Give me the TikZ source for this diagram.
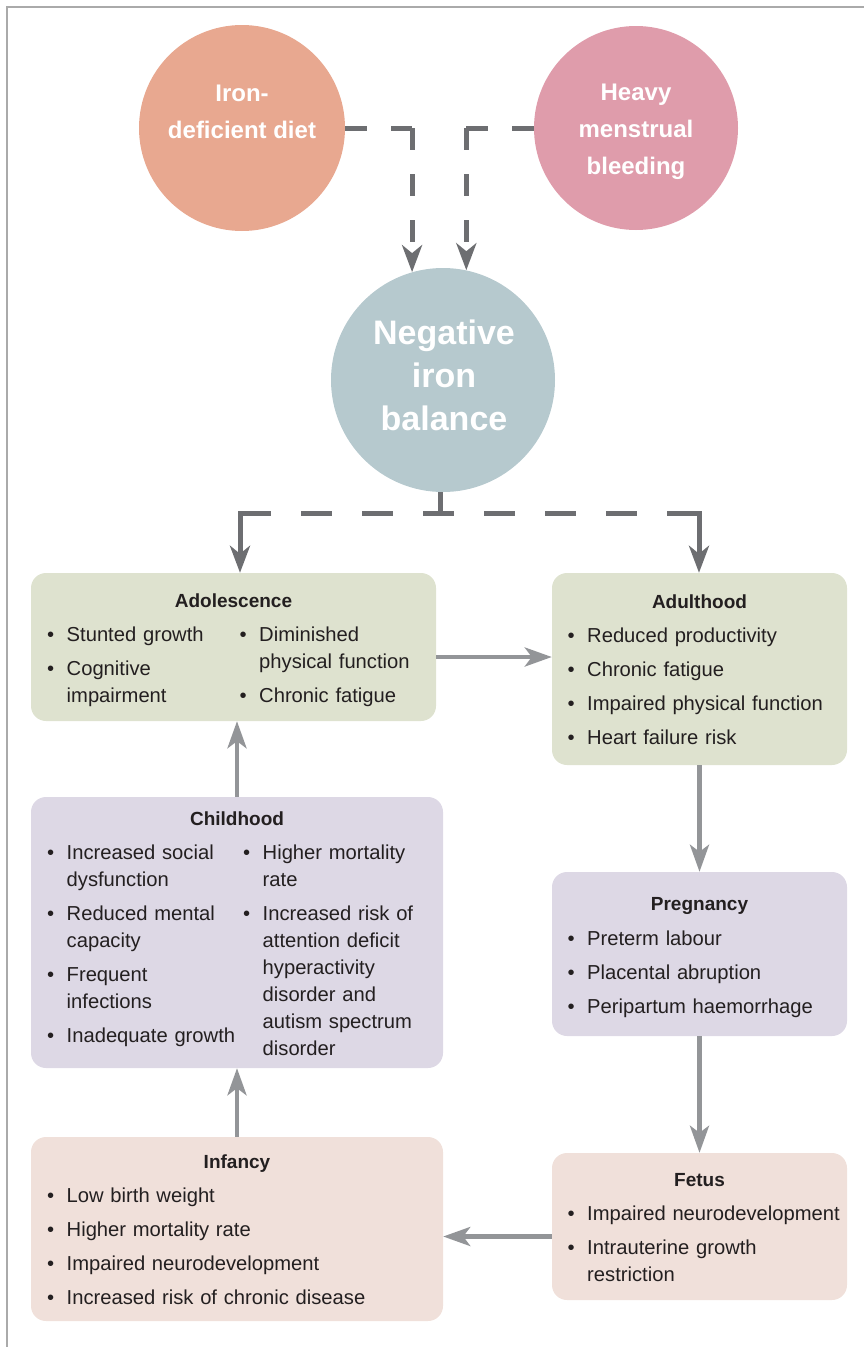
\documentclass[tikz,border=0pt]{standalone}
\usepackage{fontspec}
\setmainfont{Liberation Sans}
\usetikzlibrary{arrows.meta}

\definecolor{dietorange}{RGB}{232,168,144}
\definecolor{bleedpink}{RGB}{223,156,171}
\definecolor{balblue}{RGB}{182,201,206}
\definecolor{sagegreen}{RGB}{222,226,207}
\definecolor{lilac}{RGB}{221,216,229}
\definecolor{blush}{RGB}{240,224,218}
\definecolor{darkarrow}{RGB}{109,110,113}
\definecolor{lightarrow}{RGB}{147,149,152}
\definecolor{inktext}{RGB}{35,31,32}
\definecolor{pageframe}{RGB}{170,170,170}

% one bullet point, wrapped lines hang under the text
\newcommand\bitem[1]{\hangindent=19.5pt\hangafter=1\makebox[19.5pt][l]{\textbullet}#1\par}

\tikzset{
  cause/.style={circle, inner sep=0pt},
  phase/.style={rectangle, rounded corners=15pt, inner sep=0pt},
  head/.style={anchor=base, inner sep=0pt, text=inktext, font=\bfseries\fontsize{19}{23}\selectfont},
  items/.style={anchor=base west, inner sep=0pt, text=inktext, align=left, text width=400pt,
    font=\fontsize{20.2}{27}\selectfont, execute at begin node=\setlength{\parskip}{7pt}},
  circletext/.style={align=center, inner sep=0pt, text=white},
  dashlink/.style={draw=darkarrow, line width=5pt, dash pattern=on 22pt off 24pt},
  darklink/.style={draw=darkarrow, line width=5pt},
  link/.style={draw=lightarrow, line width=4.5pt, -{Stealth[length=27pt,width=19pt,inset=7pt]}},
  bigtip/.style={-{Stealth[length=27pt,width=20pt,inset=8pt]}},
}

\begin{document}
\begin{tikzpicture}[x=1pt,y=1pt,yscale=-1,xscale=1]
\useasboundingbox (0,0) rectangle (864,1347);

%Page frame
\draw [pageframe, line width=1.5pt] (7,1347) -- (7,7) -- (864,7);

%Shape: Circle
\node [cause, fill=dietorange, minimum size=206pt] (diet) at (242,128) {};
%Shape: Circle
\node [cause, fill=bleedpink, minimum size=204pt] (bleed) at (636,128) {};
%Shape: Circle
\node [cause, fill=balblue, minimum size=224pt] (bal) at (443,380) {};

% Text Node
\node [circletext, font=\bfseries\fontsize{24}{37}\selectfont] (diettext) at (242,112) {Iron-\\deficient diet};
% Text Node
\node [circletext, font=\bfseries\fontsize{24}{37}\selectfont] (bleedtext) at (636,132) {Heavy\\menstrual\\bleeding};
% Text Node
\node [circletext, font=\bfseries\fontsize{34}{43}\selectfont] (baltext) at (444,375) {Negative\\iron\\balance};

%Rounded Rect
\node [phase, fill=sagegreen, minimum width=405pt, minimum height=148pt] (adol) at (233.5,647) {};
%Rounded Rect
\node [phase, fill=sagegreen, minimum width=295pt, minimum height=192pt] (adult) at (699.5,669) {};
%Rounded Rect
\node [phase, fill=lilac, minimum width=412pt, minimum height=271pt] (child) at (237,932.5) {};
%Rounded Rect
\node [phase, fill=lilac, minimum width=295pt, minimum height=164pt] (preg) at (699.5,954) {};
%Rounded Rect
\node [phase, fill=blush, minimum width=295pt, minimum height=147pt] (fetus) at (699.5,1226.5) {};
%Rounded Rect
\node [phase, fill=blush, minimum width=412pt, minimum height=184pt] (inf) at (237,1229) {};

% Text Node
\node [head] (adolhead) at (233.5,607) {Adolescence};
\node [items] (adolleft) at (47,641) {\bitem{Stunted growth}\bitem{Cognitive\newline impairment}};
\node [items] (adolright) at (239.5,641) {\bitem{Diminished\newline physical function}\bitem{Chronic fatigue}};
% Text Node
\node [head] (adulthead) at (699.5,608) {Adulthood};
\node [items] (adultlist) at (567.5,642) {\bitem{Reduced productivity}\bitem{Chronic fatigue}\bitem{Impaired physical function}\bitem{Heart failure risk}};
% Text Node
\node [head] (childhead) at (237,825) {Childhood};
\node [items] (childleft) at (47,859) {\bitem{Increased social\newline dysfunction}\bitem{Reduced mental\newline capacity}\bitem{Frequent\newline infections}\bitem{Inadequate growth}};
\node [items] (childright) at (243,859) {\bitem{Higher mortality\newline rate}\bitem{Increased risk of\newline attention deficit\newline hyperactivity\newline disorder and\newline autism spectrum\newline disorder}};
% Text Node
\node [head] (preghead) at (699.5,910) {Pregnancy};
\node [items] (preglist) at (567.5,945) {\bitem{Preterm labour}\bitem{Placental abruption}\bitem{Peripartum haemorrhage}};
% Text Node
\node [head] (fetushead) at (699.5,1186) {Fetus};
\node [items] (fetuslist) at (567.5,1220) {\bitem{Impaired neurodevelopment}\bitem{Intrauterine growth\newline restriction}};
% Text Node
\node [head] (infhead) at (237,1168) {Infancy};
\node [items] (inflist) at (47,1202) {\bitem{Low birth weight}\bitem{Higher mortality rate}\bitem{Impaired neurodevelopment}\bitem{Increased risk of chronic disease}};

%Dashed Lines: causes into the balance
\coordinate (dietturn) at (diet.east -| bal.106);
\coordinate (bleedturn) at (bleed.west -| bal.78);
\draw [dashlink] (diet.east) -- (dietturn);
\draw [dashlink, bigtip] (dietturn) -- (bal.106);
\draw [dashlink] (bleed.west) -- (bleedturn);
\draw [dashlink, bigtip] (bleedturn) -- (bal.78);

%Dashed Lines: balance out to the two stages
\coordinate (split) at ([yshift=21pt, xshift=-3pt]bal.south);
\coordinate (lturn) at (240,513);
\coordinate (rturn) at (699,513);
\draw [darklink] ([xshift=-3pt]bal.south) -- (split);
\draw [dashlink, dash pattern=on 31pt off 30pt] (lturn) -- (rturn);
\draw [darklink, line cap=rect, bigtip] (lturn) -- (lturn |- adol.north);
\draw [darklink, line cap=rect, bigtip] (rturn) -- (rturn |- adult.north);

%Straight Lines: life cycle
\draw [link] ([yshift=10pt]adol.east) -- ([yshift=10pt]adol.east -| adult.west);
\draw [link] (adult.south) -- (preg.north);
\draw [link] (preg.south) -- (fetus.north);
\draw [link] ([yshift=10pt]fetus.west) -- ([yshift=10pt]fetus.west -| inf.east);
\draw [link] (inf.north) -- (child.south);
\draw [link] (child.north) -- (child.north |- adol.south);

\end{tikzpicture}
\end{document}
